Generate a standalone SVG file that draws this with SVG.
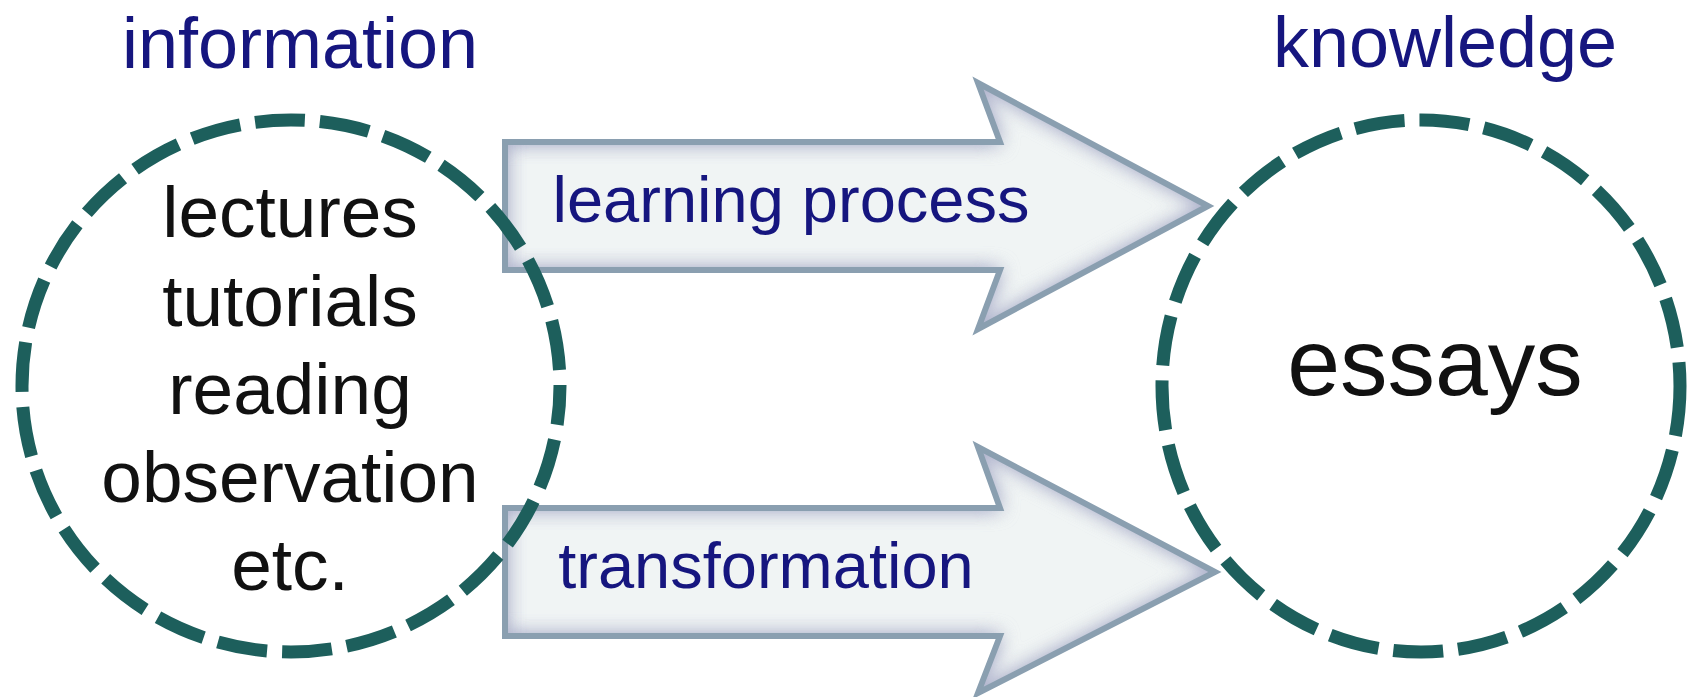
<svg xmlns="http://www.w3.org/2000/svg" width="1688" height="697" viewBox="0 0 1688 697">
  <style>
    .ring { fill: none; stroke: #1d5f5c; stroke-width: 13; stroke-dasharray: 50 15; }
    .title { font-family: "Liberation Sans", Arial, sans-serif; font-size: 72px; fill: #16167f; text-anchor: middle; }
    .item { font-family: "Liberation Sans", Arial, sans-serif; font-size: 73px; fill: #111111; text-anchor: middle; }
    .big { font-family: "Liberation Sans", Arial, sans-serif; font-size: 95px; fill: #111111; text-anchor: middle; }
    .lbl { font-family: "Liberation Sans", Arial, sans-serif; font-size: 65px; fill: #16167f; text-anchor: middle; }
    .afill { fill: #f0f4f4; filter: url(#glow); }
    .aline { fill: none; stroke: #8a9fb0; stroke-width: 6; stroke-linejoin: miter; }
  </style>
  <defs>
    <filter id="glow" x="-5%" y="-10%" width="110%" height="120%" color-interpolation-filters="sRGB">
      <feFlood flood-color="#aeb2cc" result="c"/>
      <feComposite in="c" in2="SourceAlpha" operator="out" result="outside"/>
      <feGaussianBlur in="outside" stdDeviation="10" result="b"/>
      <feComposite in="b" in2="SourceAlpha" operator="in" result="inner"/>
      <feMerge>
        <feMergeNode in="SourceGraphic"/>
        <feMergeNode in="inner"/>
        <feMergeNode in="inner"/>
      </feMerge>
    </filter>
  </defs>
  <rect width="1688" height="697" fill="#ffffff"/>

  <g id="connectors">
    <g id="arrow-learning">
      <path class="afill" d="M505,142 L1000,142 L978,83 L1208,206 L978,329 L1000,270 L505,270 Z"/>
      <path class="aline" d="M505,142 L1000,142 L978,83 L1208,206 L978,329 L1000,270 L505,270 Z"/>
      <text class="lbl" x="791" y="222">learning process</text>
    </g>
    <g id="arrow-transformation">
      <path class="afill" d="M505,508 L1000,508 L978,447 L1215,572 L978,693 L1000,636 L505,636 Z"/>
      <path class="aline" d="M505,508 L1000,508 L978,447 L1215,572 L978,693 L1000,636 L505,636 Z"/>
      <text class="lbl" x="766" y="588">transformation</text>
    </g>
  </g>

  <g id="node-information">
    <text class="title" x="300" y="68">information</text>
    <ellipse class="ring" cx="291" cy="386" rx="269" ry="266" stroke-dashoffset="11"/>
    <text class="item" x="290" y="237">lectures</text>
    <text class="item" x="290" y="326">tutorials</text>
    <text class="item" x="290" y="414">reading</text>
    <text class="item" x="290" y="502">observation</text>
    <text class="item" x="290" y="590">etc.</text>
  </g>

  <g id="node-knowledge">
    <text class="title" x="1445" y="67">knowledge</text>
    <ellipse class="ring" cx="1421" cy="386" rx="259" ry="266"/>
    <text class="big" x="1435" y="395">essays</text>
  </g>
</svg>
